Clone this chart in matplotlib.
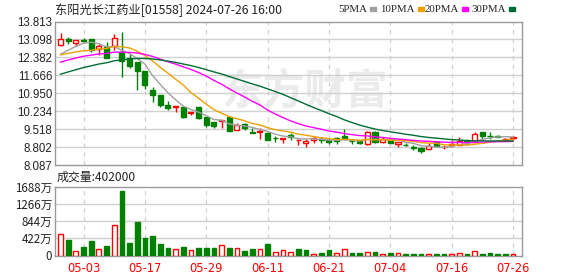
import numpy as np
import matplotlib
matplotlib.use("Agg")
import matplotlib.pyplot as plt

plt.rcParams['font.family'] = ['Noto Sans CJK SC', 'DejaVu Sans']

# daily OHLC, 60 trading days
opens = [12.88, 13.10, 12.97, 13.09, 13.11, 12.72, 12.81, 12.85, 12.61, 12.37,
         12.21, 11.84, 11.08, 10.88, 10.48, 10.40, 10.41, 10.17, 10.39, 9.99,
         9.80, 9.84, 9.99, 9.48, 9.71, 9.40, 9.39, 9.37, 9.17, 9.14,
         9.28, 9.07, 8.95, 9.09, 9.12, 9.09, 9.15, 9.24, 9.06, 9.03,
         8.92, 9.40, 9.00, 9.08, 8.93, 8.90, 8.81, 8.78, 8.71, 9.00,
         8.80, 8.90, 8.88, 9.03, 9.02, 9.40, 9.26, 9.24, 9.09, 9.17]
highs = [13.34, 13.18, 13.06, 13.14, 13.11, 12.90, 12.98, 13.31, 13.38, 12.50,
         12.21, 11.84, 11.21, 10.88, 10.64, 10.45, 10.41, 10.22, 10.39, 9.99,
         9.80, 9.88, 10.01, 9.78, 9.78, 9.55, 9.55, 9.42, 9.25, 9.18,
         9.35, 9.12, 9.11, 9.21, 9.22, 9.13, 9.19, 9.52, 9.10, 9.07,
         9.44, 9.44, 9.19, 9.13, 9.00, 8.97, 8.89, 8.82, 8.96, 9.05,
         8.87, 9.07, 9.22, 9.14, 9.39, 9.40, 9.40, 9.27, 9.16, 9.23]
lows = [12.84, 12.90, 12.84, 13.01, 12.61, 12.48, 12.37, 12.68, 11.61, 11.95,
        11.08, 11.12, 10.61, 10.41, 10.28, 10.21, 9.98, 10.08, 9.91, 9.62,
        9.57, 9.55, 9.46, 9.48, 9.48, 9.37, 9.11, 9.08, 9.01, 8.98,
        9.10, 8.88, 8.79, 8.97, 8.95, 8.91, 8.93, 9.11, 8.94, 8.91,
        8.90, 8.97, 8.97, 8.95, 8.82, 8.85, 8.68, 8.58, 8.71, 8.81,
        8.72, 8.80, 8.88, 8.88, 9.02, 9.08, 9.11, 9.20, 9.03, 9.08]
closes = [13.12, 13.02, 13.06, 13.04, 12.68, 12.84, 12.37, 13.17, 12.24, 12.05,
          11.84, 11.28, 10.88, 10.48, 10.37, 10.45, 10.01, 10.20, 9.95, 9.68,
          9.66, 9.88, 9.46, 9.68, 9.55, 9.37, 9.44, 9.08, 9.15, 9.17,
          9.19, 9.09, 9.03, 9.16, 9.10, 9.02, 9.06, 9.14, 9.05, 8.95,
          9.40, 9.00, 9.11, 8.98, 9.00, 8.88, 8.78, 8.66, 8.86, 8.84,
          8.82, 8.93, 9.06, 9.01, 9.31, 9.24, 9.23, 9.22, 9.11, 9.19]
# closes of the 29 days before the window (needed for the moving averages)
prior_closes = [10.3, 10.4, 10.5, 10.6, 10.7, 10.8, 10.9, 11.0, 11.1, 11.2,
                11.3, 11.5, 11.6, 11.8, 11.9, 12.0, 12.1, 12.2, 12.3, 12.3,
                12.4, 12.5, 12.6, 12.5, 12.3, 12.2, 12.3, 12.4, 12.5]
# volume in 万 shares
volumes = [526, 379, 110, 208, 355, 159, 232, 746, 1578, 313,
           819, 436, 477, 290, 183, 159, 208, 134, 183, 183,
           183, 257, 183, 175, 110, 159, 159, 281, 86, 125,
           94, 159, 135, 37, 61, 135, 61, 151, 61, 61,
           86, 86, 37, 61, 61, 37, 37, 37, 37, 37,
           37, 37, 61, 37, 118, 37, 61, 37, 37, 37]

tick_idx = [3, 11, 19, 27, 35, 43, 51, 59]
tick_dates = ['05-03', '05-17', '05-29', '06-11', '06-21', '07-04', '07-16', '07-26']
price_ticks = [8.087, 8.802, 9.518, 10.234, 10.950, 11.666, 12.382, 13.098, 13.813]
vol_ticks = [0, 422, 844, 1266, 1688]
vol_labels = ['0', '422万', '844万', '1266万', '1688万']
ma_periods = [5, 10, 20, 30]
ma_colors = ['#a0a0a0', '#f0a000', '#ff00ff', '#006e33']

RED = '#ff0000'
GREEN = '#008000'
FRAME = '#9a9a9a'
GRID = '#d0d0d0'

o = np.array(opens)
h = np.array(highs)
l = np.array(lows)
c = np.array(closes)
v = np.array(volumes)
x = np.arange(len(c))
up = c >= o
full = np.concatenate([prior_closes, closes])
prev = full[len(prior_closes) - 1:-1]
vol_up = c >= prev

fig = plt.figure(figsize=(5.78, 2.76), dpi=100)
W, H = 578, 276


def axes_px(left, top, right, bottom):
    return fig.add_axes([left / W, 1 - bottom / H, (right - left) / W, (bottom - top) / H])


axp = axes_px(55, 21.5, 522, 165)
axv = axes_px(55, 186.5, 522, 255.5)
xlim = (-0.72, 60.17)

for ax in (axp, axv):
    ax.set_xlim(*xlim)
    for s in ax.spines.values():
        s.set_color(FRAME)
        s.set_linewidth(1.0)
    ax.tick_params(length=0, labelsize=8.3, colors='#222222', pad=2)
    for t in tick_idx:
        ax.axvline(t, color=GRID, lw=0.9, ls=(0, (3.5, 3.5)), zorder=0)
    ax.set_xticks(tick_idx)
    ax.set_facecolor('white')

# watermark
axp.text(0.535, 0.51, '东方财富', transform=axp.transAxes, fontsize=30, fontweight='bold',
         color='#ebebee', ha='center', va='center', zorder=0, style='italic')

axp.set_ylim(price_ticks[0], price_ticks[-1])
axp.set_yticks(price_ticks)
axp.set_yticklabels(['%.3f' % t for t in price_ticks], family=['Liberation Sans'])
for t in price_ticks[1:-1]:
    axp.axhline(t, color=GRID, lw=1.0, zorder=0)
axp.set_xticklabels([])

# candles
wick_col = np.where(up, RED, GREEN)
axp.vlines(x, l, h, colors=wick_col, lw=1.0, zorder=2)
body_h = np.maximum(np.abs(c - o), 0.012)
body_b = np.minimum(o, c)
axp.bar(x[up], body_h[up], bottom=body_b[up], width=0.66, facecolor='white',
        edgecolor=RED, lw=1.0, zorder=3)
axp.bar(x[~up], body_h[~up], bottom=body_b[~up], width=0.66, facecolor=GREEN,
        edgecolor=GREEN, lw=1.0, zorder=3)

# moving averages
for n, col in zip(ma_periods, ma_colors):
    ma = np.convolve(full, np.ones(n) / n, mode='valid')[-len(c):]
    axp.plot(x, ma, color=col, lw=1.0, zorder=4)

# volume
axv.set_ylim(0, vol_ticks[-1])
axv.set_yticks(vol_ticks)
axv.set_yticklabels(vol_labels)
for t in vol_ticks[1:-1]:
    axv.axhline(t, color=GRID, lw=1.0, zorder=0)
axv.bar(x[vol_up], v[vol_up], width=0.62, facecolor='white', edgecolor=RED, lw=1.0, zorder=3)
axv.bar(x[~vol_up], v[~vol_up], width=0.62, facecolor=GREEN, edgecolor=GREEN, lw=1.0, zorder=3)
axv.set_xticklabels(tick_dates, color=RED, fontsize=8.3, family=['DejaVu Sans'])
axv.tick_params(axis='x', pad=5)

# titles
fig.text(55 / W, 1 - 10.5 / H, '东阳光长江药业[01558] 2024-07-26 16:00', fontsize=8.8,
         color='#222222', va='center', ha='left')
fig.text(57 / W, 1 - 177 / H, '成交量:402000', fontsize=8.6, color='#222222',
         va='center', ha='left')

# legend
leg_x = [338, 380, 425, 471]
for xx, n, col in zip(leg_x, ma_periods, ma_colors):
    t = fig.text(xx / W, 1 - 9 / H, '%dPMA' % n, fontsize=7.8, color='#222222',
                 va='center', ha='left', family=['Liberation Serif'])
    fig.canvas.draw()
    bb = t.get_window_extent()
    fig.patches.append(plt.Rectangle(((bb.x1 + 3) / W, 1 - 10.5 / H), 6 / W, 3 / H,
                                     transform=fig.transFigure, color=col, figure=fig))

fig.savefig('out.png', dpi=100, facecolor='white')
